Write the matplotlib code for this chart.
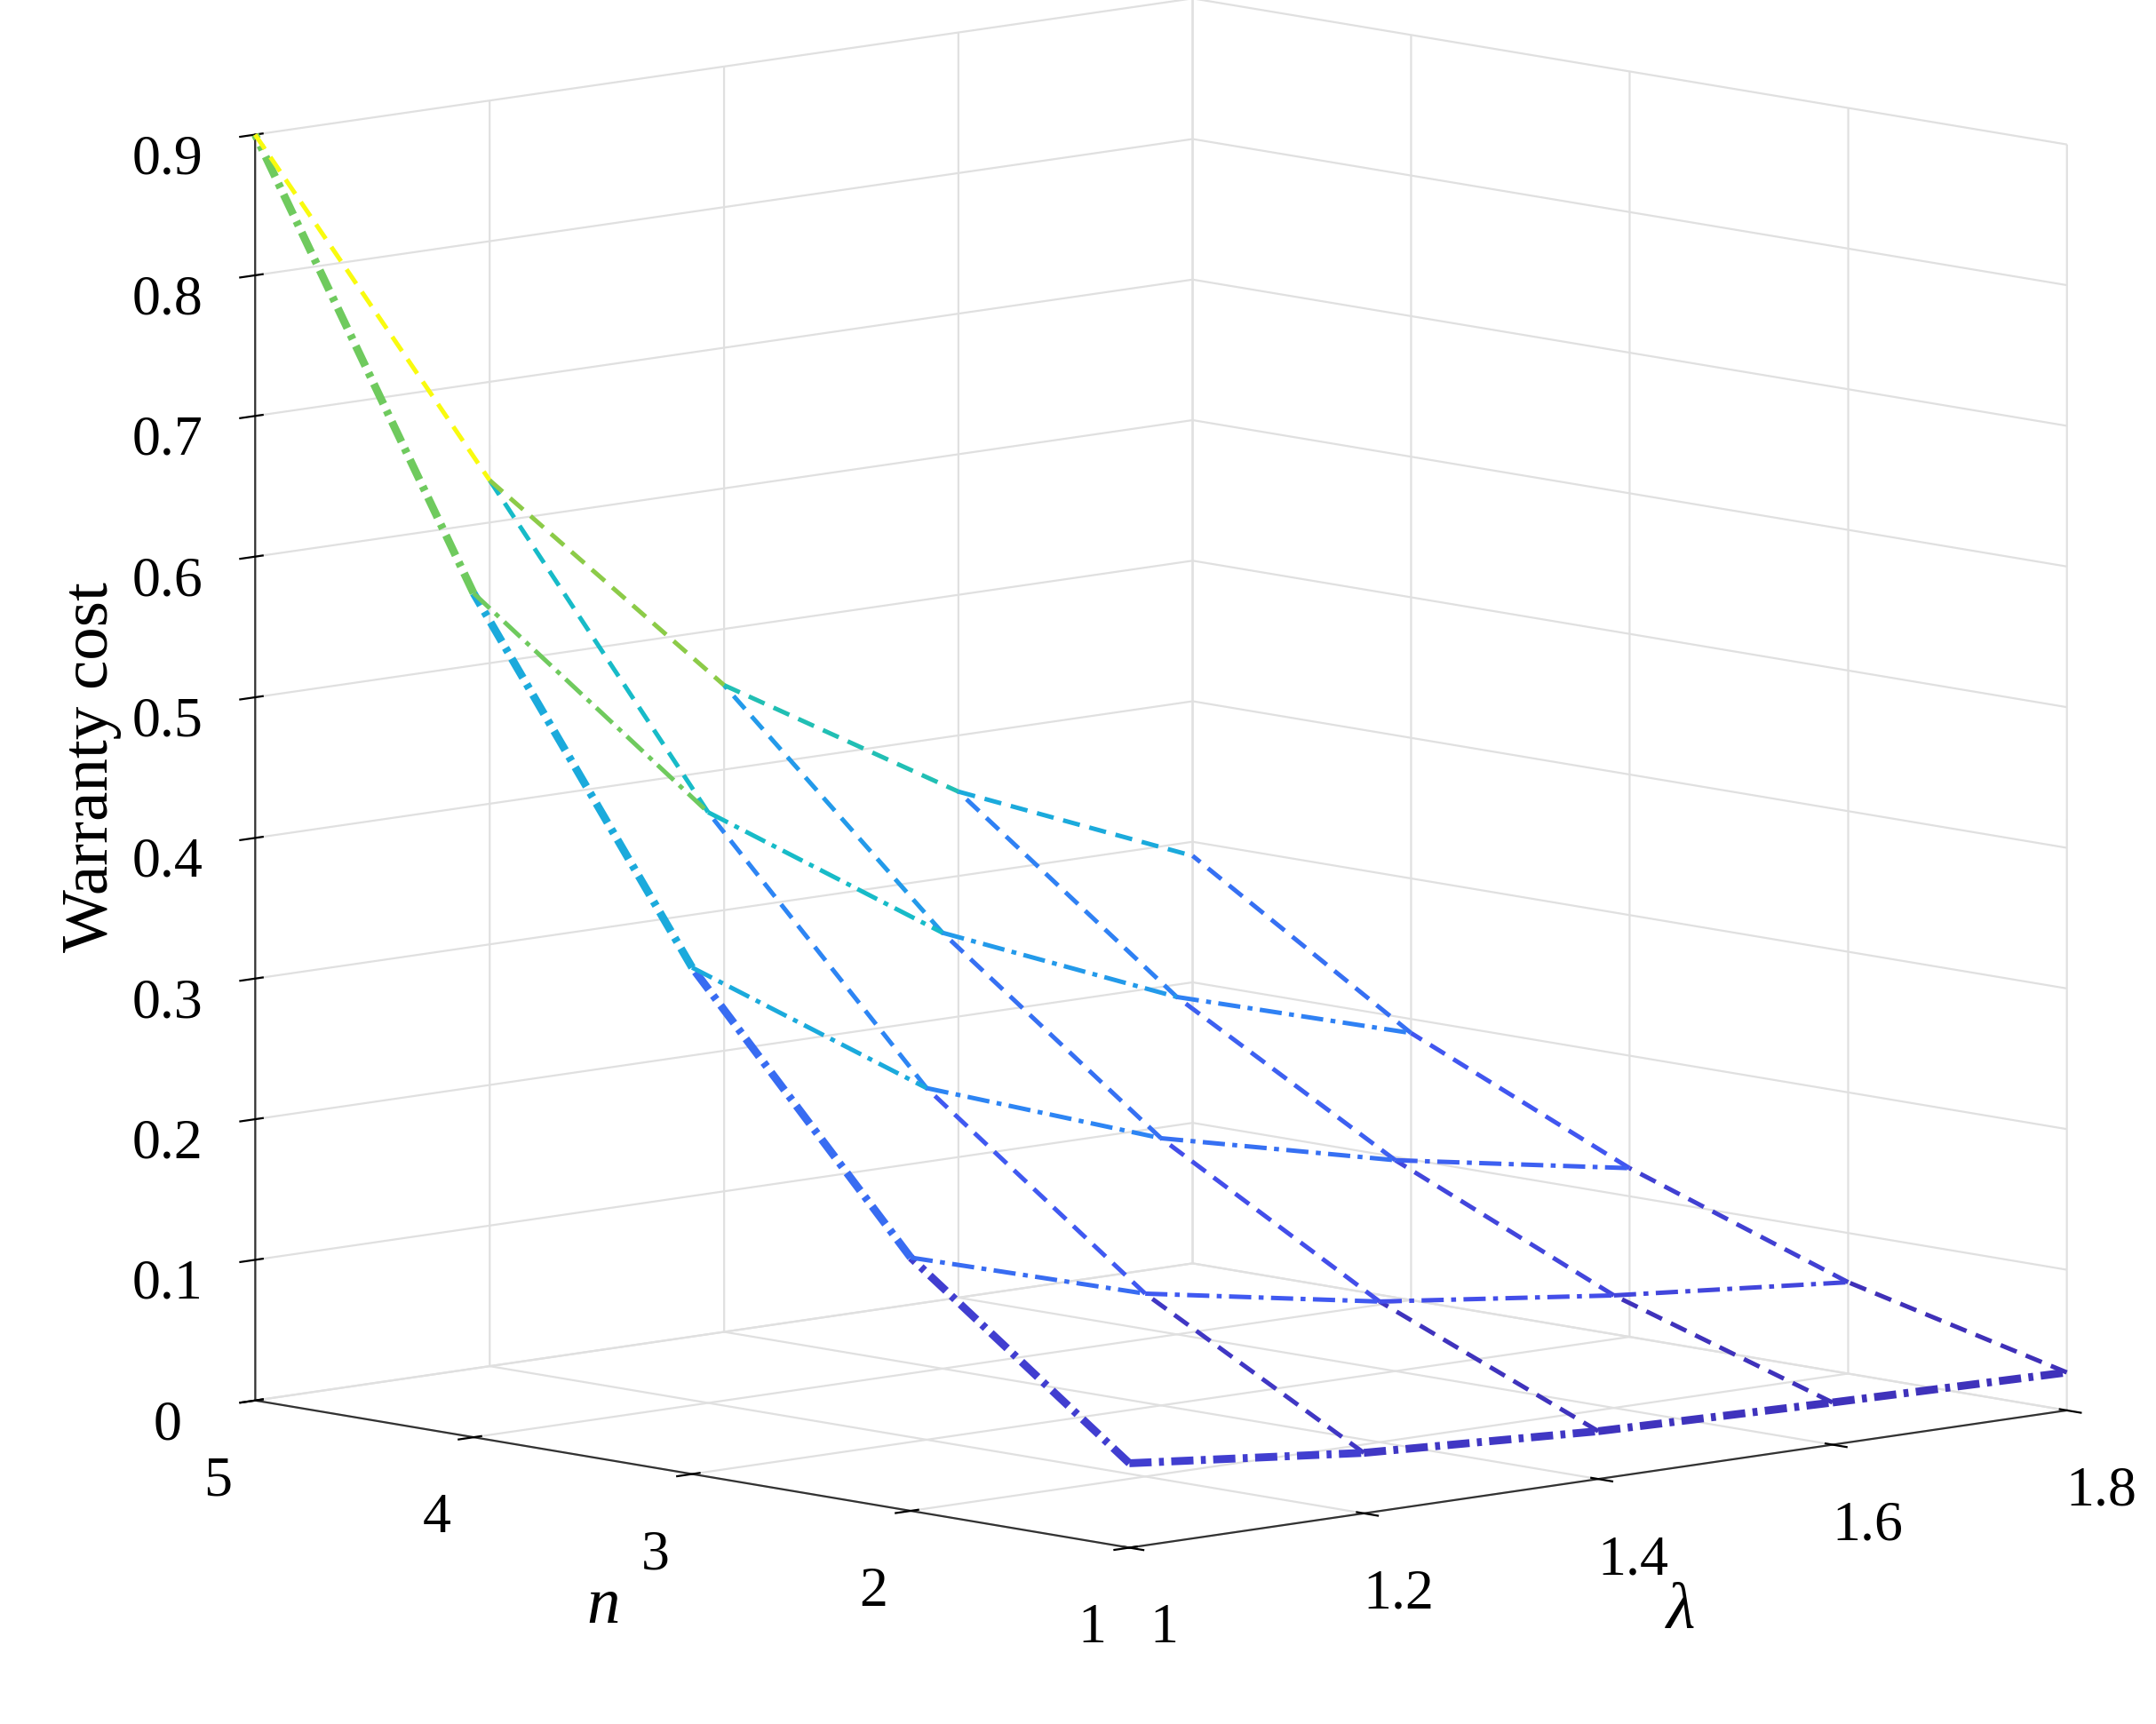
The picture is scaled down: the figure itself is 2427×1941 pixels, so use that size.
import numpy as np
import matplotlib.pyplot as plt
from matplotlib.colors import LinearSegmentedColormap

plt.rcParams['font.family'] = ['Liberation Serif', 'DejaVu Serif']
plt.rcParams['axes3d.automargin'] = False
plt.rcParams['lines.scale_dashes'] = False

lam = [1.0, 1.2, 1.4, 1.6, 1.8]
n_vals = [1, 2, 3, 4, 5]
z_ticks = [0.0, 0.1, 0.2, 0.3, 0.4, 0.5, 0.6, 0.7, 0.8, 0.9]
# cost[i][j]: n = n_vals[i], lambda = lam[j]
cost = [
    [0.060, 0.043, 0.034, 0.030, 0.027],
    [0.180, 0.130, 0.100, 0.080, 0.065],
    [0.360, 0.250, 0.190, 0.150, 0.120],
    [0.600, 0.420, 0.310, 0.240, 0.190],
    [0.900, 0.630, 0.460, 0.360, 0.290],
]

parula = LinearSegmentedColormap.from_list(
    'parula', [(0.0, '#3E26A8'), (0.12, '#4352F0'), (0.3, '#2A8CF5'), (0.45, '#13B9D0'),
               (0.6, '#37C889'), (0.72, '#9BCB3C'), (0.88, '#F5D72A'), (1.0, '#F9FB0E')])

DASH = (0, (7, 4))
DASHDOT = (0, (9, 3, 2, 3))

Z = np.array(cost)
fig = plt.figure(figsize=(12.135, 9.705), dpi=200)
ax = fig.add_axes([-0.1, -0.09, 1.25, 1.25], projection='3d')
ax.set_proj_type('persp', focal_length=100)
ax.view_init(elev=9, azim=-133)
ax.set_box_aspect((1, 1, 1.0), zoom=1.0)


def seg(x0, y0, z0, x1, y1, z1, ls, lw, cz):
    ax.plot([x0, x1], [y0, y1], [z0, z1], color=parula(cz / 0.9), ls=ls, lw=lw)


# lines along n (fixed lambda)
for j, l in enumerate(lam):
    lw = 3.2 if j == 0 else 1.8
    ls = DASHDOT if j == 0 else DASH
    for i in range(4):
        seg(l, n_vals[i], Z[i, j], l, n_vals[i + 1], Z[i + 1, j], ls, lw, min(Z[i, j], Z[i + 1, j]))
# lines along lambda (fixed n)
for i, nv in enumerate(n_vals):
    lw = 3.2 if i == 0 else 1.8
    for j in range(4):
        seg(lam[j], nv, Z[i, j], lam[j + 1], nv, Z[i, j + 1], DASHDOT if i != 4 else DASH, lw,
            max(Z[i, j], Z[i, j + 1]))

ax.set_xticks(lam)
ax.set_xticklabels(['1', '1.2', '1.4', '1.6', '1.8'])
ax.set_yticks(n_vals)
ax.set_zticks(z_ticks)
ax.set_zticklabels(['0'] + ['%.1f' % v for v in z_ticks[1:]])
ax.set_autoscale_on(False)
ax.set_xlim3d(1, 1.8)
ax.set_ylim3d(1, 5)
ax.set_zlim3d(0, 0.9)
ax.tick_params(labelsize=23)
ax.tick_params(axis='z', pad=14)
ax.tick_params(axis='x', pad=10)
ax.tick_params(axis='y', pad=10)

for a in (ax.xaxis, ax.yaxis, ax.zaxis):
    a.set_pane_color((1, 1, 1, 1))
    a._axinfo['grid']['color'] = (0.88, 0.88, 0.88, 1)
    a._axinfo['grid']['linewidth'] = 0.8
    a.line.set_color('#333333')

ax.set_xlabel('λ', fontsize=27, style='italic', labelpad=22)
ax.set_ylabel('n', fontsize=27, style='italic', labelpad=22)
ax.zaxis.set_rotate_label(False)
ax.set_zlabel('Warranty cost', fontsize=27, labelpad=20, rotation=90)

fig.savefig('out.png', dpi=200)
